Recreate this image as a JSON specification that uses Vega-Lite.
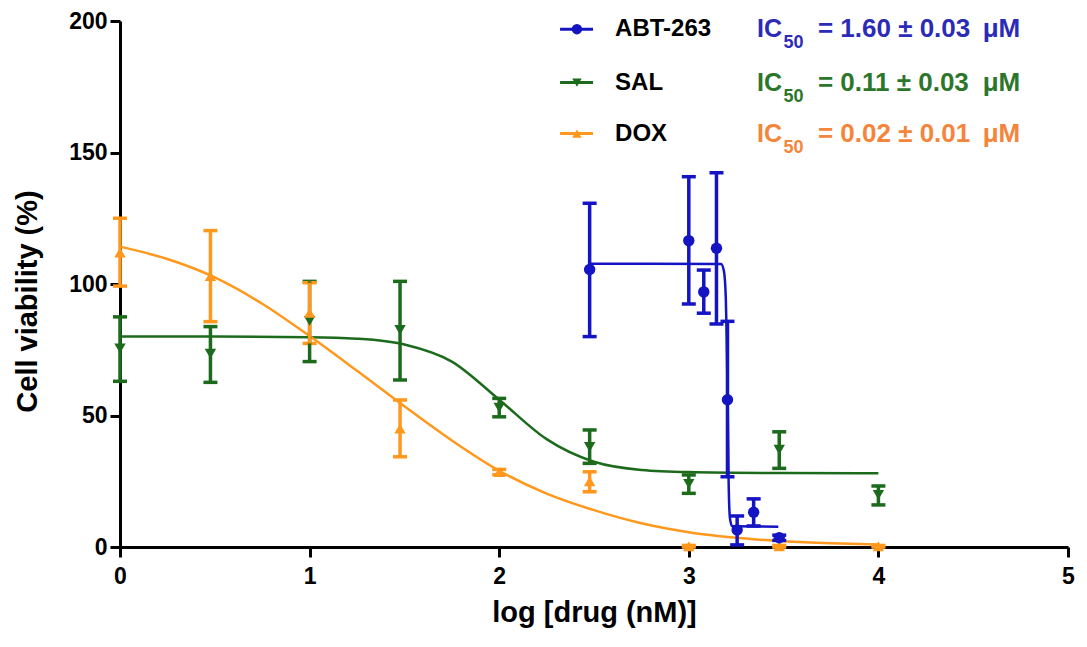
{
  "$schema": "https://vega.github.io/schema/vega-lite/v6.json",
  "width": 948,
  "height": 526,
  "autosize": "none",
  "padding": {"left": 120, "top": 21, "right": 19, "bottom": 100},
  "background": "white",
  "datasets": {
    "obs": [
      {"drug": "SAL", "logc": 0, "viab": 75.5, "lo": 63, "hi": 87.5},
      {"drug": "SAL", "logc": 0.477, "viab": 73.5, "lo": 62.6, "hi": 83.8},
      {"drug": "SAL", "logc": 1, "viab": 86, "lo": 70.5, "hi": 101},
      {"drug": "SAL", "logc": 1.477, "viab": 82.5, "lo": 63.5, "hi": 101},
      {"drug": "SAL", "logc": 2, "viab": 53, "lo": 49.5, "hi": 56.5},
      {"drug": "SAL", "logc": 2.477, "viab": 38, "lo": 31.8, "hi": 44.5},
      {"drug": "SAL", "logc": 3, "viab": 24, "lo": 20.4, "hi": 27.4},
      {"drug": "SAL", "logc": 3.477, "viab": 37, "lo": 29.9, "hi": 43.8},
      {"drug": "SAL", "logc": 4, "viab": 19.8, "lo": 16, "hi": 23.2},
      {"drug": "DOX", "logc": 0, "viab": 112, "lo": 99.2, "hi": 125},
      {"drug": "DOX", "logc": 0.477, "viab": 103, "lo": 85.7, "hi": 120.3},
      {"drug": "DOX", "logc": 1, "viab": 89, "lo": 77.4, "hi": 100.5},
      {"drug": "DOX", "logc": 1.477, "viab": 45, "lo": 34.3, "hi": 55.9},
      {"drug": "DOX", "logc": 2, "viab": 28.5, "lo": 27.5, "hi": 29.5},
      {"drug": "DOX", "logc": 2.477, "viab": 25, "lo": 21, "hi": 28.6},
      {"drug": "DOX", "logc": 3, "viab": 0.3, "lo": 0, "hi": 0.6},
      {"drug": "DOX", "logc": 3.477, "viab": 0.3, "lo": 0, "hi": 0.6},
      {"drug": "DOX", "logc": 4, "viab": 0.3, "lo": 0, "hi": 0.6},
      {"drug": "ABT-263", "logc": 2.477, "viab": 105.5, "lo": 80, "hi": 130.7},
      {"drug": "ABT-263", "logc": 3.0, "viab": 116.5, "lo": 92.4, "hi": 140.8},
      {"drug": "ABT-263", "logc": 3.079, "viab": 97, "lo": 88.9, "hi": 105.3},
      {"drug": "ABT-263", "logc": 3.146, "viab": 113.6, "lo": 84.8, "hi": 142.3},
      {"drug": "ABT-263", "logc": 3.204, "viab": 56, "lo": 26.7, "hi": 85.8},
      {"drug": "ABT-263", "logc": 3.255, "viab": 6.5, "lo": 0.8, "hi": 11.8},
      {"drug": "ABT-263", "logc": 3.342, "viab": 13.2, "lo": 8, "hi": 18.3},
      {"drug": "ABT-263", "logc": 3.477, "viab": 3.5, "lo": 2.5, "hi": 4.5}
    ],
    "fit": [
      {"drug": "SAL", "logc": 0, "viab": 80},
      {"drug": "SAL", "logc": 0.5, "viab": 80},
      {"drug": "SAL", "logc": 1, "viab": 79.8},
      {"drug": "SAL", "logc": 1.25, "viab": 79.2},
      {"drug": "SAL", "logc": 1.5, "viab": 77},
      {"drug": "SAL", "logc": 1.75, "viab": 70.5},
      {"drug": "SAL", "logc": 2, "viab": 56},
      {"drug": "SAL", "logc": 2.25, "viab": 41},
      {"drug": "SAL", "logc": 2.5, "viab": 32.4},
      {"drug": "SAL", "logc": 2.75, "viab": 29.3},
      {"drug": "SAL", "logc": 3, "viab": 28.5},
      {"drug": "SAL", "logc": 3.5, "viab": 28.1},
      {"drug": "SAL", "logc": 4, "viab": 28},
      {"drug": "DOX", "logc": 0, "viab": 114.2},
      {"drug": "DOX", "logc": 0.25, "viab": 109.5},
      {"drug": "DOX", "logc": 0.5, "viab": 102.5},
      {"drug": "DOX", "logc": 0.75, "viab": 92.5},
      {"drug": "DOX", "logc": 1, "viab": 80.2},
      {"drug": "DOX", "logc": 1.25, "viab": 67},
      {"drug": "DOX", "logc": 1.5, "viab": 53.5},
      {"drug": "DOX", "logc": 1.75, "viab": 40.5},
      {"drug": "DOX", "logc": 2, "viab": 29},
      {"drug": "DOX", "logc": 2.25, "viab": 20.3},
      {"drug": "DOX", "logc": 2.5, "viab": 14},
      {"drug": "DOX", "logc": 2.75, "viab": 9},
      {"drug": "DOX", "logc": 3, "viab": 5.6},
      {"drug": "DOX", "logc": 3.25, "viab": 3.5},
      {"drug": "DOX", "logc": 3.5, "viab": 2.2},
      {"drug": "DOX", "logc": 3.75, "viab": 1.4},
      {"drug": "DOX", "logc": 4, "viab": 0.9},
      {"drug": "ABT-263", "logc": 2.477, "viab": 107.7},
      {"drug": "ABT-263", "logc": 3.17, "viab": 107.6},
      {"drug": "ABT-263", "logc": 3.185, "viab": 105},
      {"drug": "ABT-263", "logc": 3.195, "viab": 95},
      {"drug": "ABT-263", "logc": 3.2, "viab": 80},
      {"drug": "ABT-263", "logc": 3.205, "viab": 55},
      {"drug": "ABT-263", "logc": 3.21, "viab": 25},
      {"drug": "ABT-263", "logc": 3.217, "viab": 11},
      {"drug": "ABT-263", "logc": 3.228, "viab": 8},
      {"drug": "ABT-263", "logc": 3.472, "viab": 7.7}
    ],
    "key": [
      {"drug": "ABT-263", "ic": "= 1.60 ± 0.03"},
      {"drug": "SAL", "ic": "= 0.11 ± 0.03"},
      {"drug": "DOX", "ic": "= 0.02 ± 0.01"}
    ]
  },
  "encoding": {
    "x": {
      "type": "quantitative",
      "scale": {"domain": [0, 5], "nice": false, "zero": false},
      "axis": {"title": "log [drug (nM)]", "values": [0, 1, 2, 3, 4, 5], "format": "d", "labelPadding": 8, "titlePadding": 10}
    },
    "y": {
      "type": "quantitative",
      "scale": {"domain": [0, 200], "nice": false},
      "axis": {"title": "Cell viability (%)", "values": [0, 50, 100, 150, 200], "labelPadding": 3, "titlePadding": 26, "titleY": 280}
    },
    "color": {
      "field": "drug",
      "type": "nominal",
      "scale": {"domain": ["ABT-263", "SAL", "DOX"], "range": ["#1414c4", "#1c6b1c", "#ff981c"]},
      "legend": null
    }
  },
  "layer": [
    {
      "data": {"name": "fit"},
      "mark": {"type": "line", "strokeWidth": 2.5, "interpolate": "monotone"},
      "encoding": {"x": {"field": "logc"}, "y": {"field": "viab"}}
    },
    {
      "data": {"name": "obs"},
      "mark": {"type": "errorbar", "thickness": 3.5, "opacity": 1, "rule": {"opacity": 1}, "ticks": {"size": 14, "opacity": 1}},
      "encoding": {
        "x": {"field": "logc", "type": "quantitative"},
        "y": {"field": "lo", "type": "quantitative"},
        "y2": {"field": "hi"},
        "color": {"field": "drug", "type": "nominal"}
      }
    },
    {
      "data": {"name": "obs"},
      "mark": {"type": "point", "filled": true, "opacity": 1, "size": 130},
      "encoding": {
        "x": {"field": "logc"},
        "y": {"field": "viab"},
        "shape": {
          "field": "drug",
          "type": "nominal",
          "scale": {"domain": ["ABT-263", "SAL", "DOX"], "range": ["circle", "triangle-down", "triangle-up"]},
          "legend": null
        }
      }
    },
    {
      "data": {"name": "key"},
      "transform": [{"filter": "datum.drug == 'ABT-263'"}],
      "encoding": {"y": {"datum": 196.9}},
      "layer": [
        {"mark": {"type": "rule", "strokeWidth": 3}, "encoding": {"x": {"datum": 2.321}, "x2": {"datum": 2.495}}},
        {"mark": {"type": "point", "filled": true, "opacity": 1, "size": 110}, "encoding": {"x": {"datum": 2.41}, "shape": {"field": "drug", "type": "nominal"}}},
        {"mark": {"type": "text", "align": "left", "baseline": "middle", "fontSize": 24, "fontWeight": "bold"}, "encoding": {"x": {"datum": 2.611}, "text": {"field": "drug"}, "color": {"value": "black"}}},
        {"mark": {"type": "text", "align": "left", "baseline": "middle", "fontSize": 25, "fontWeight": "bold"}, "encoding": {"x": {"datum": 3.36}, "text": {"value": "IC"}, "color": {"value": "#2b2bb8"}}},
        {"mark": {"type": "text", "align": "left", "baseline": "middle", "fontSize": 18, "fontWeight": "bold", "dy": 14}, "encoding": {"x": {"datum": 3.5}, "text": {"value": "50"}, "color": {"value": "#2b2bb8"}}},
        {"mark": {"type": "text", "align": "left", "baseline": "middle", "fontSize": 26, "fontWeight": "bold"}, "encoding": {"x": {"datum": 3.681}, "text": {"field": "ic"}, "color": {"value": "#2b2bb8"}}},
        {"mark": {"type": "text", "align": "left", "baseline": "middle", "fontSize": 26, "fontWeight": "bold"}, "encoding": {"x": {"datum": 4.55}, "text": {"value": "μM"}, "color": {"value": "#2b2bb8"}}}
      ]
    },
    {
      "data": {"name": "key"},
      "transform": [{"filter": "datum.drug == 'SAL'"}],
      "encoding": {"y": {"datum": 176.6}},
      "layer": [
        {"mark": {"type": "rule", "strokeWidth": 3}, "encoding": {"x": {"datum": 2.321}, "x2": {"datum": 2.495}}},
        {"mark": {"type": "point", "filled": true, "opacity": 1, "size": 90}, "encoding": {"x": {"datum": 2.41}, "shape": {"field": "drug", "type": "nominal"}}},
        {"mark": {"type": "text", "align": "left", "baseline": "middle", "fontSize": 24, "fontWeight": "bold"}, "encoding": {"x": {"datum": 2.611}, "text": {"field": "drug"}, "color": {"value": "black"}}},
        {"mark": {"type": "text", "align": "left", "baseline": "middle", "fontSize": 25, "fontWeight": "bold"}, "encoding": {"x": {"datum": 3.36}, "text": {"value": "IC"}, "color": {"value": "#2c762c"}}},
        {"mark": {"type": "text", "align": "left", "baseline": "middle", "fontSize": 18, "fontWeight": "bold", "dy": 14}, "encoding": {"x": {"datum": 3.5}, "text": {"value": "50"}, "color": {"value": "#2c762c"}}},
        {"mark": {"type": "text", "align": "left", "baseline": "middle", "fontSize": 26, "fontWeight": "bold"}, "encoding": {"x": {"datum": 3.681}, "text": {"field": "ic"}, "color": {"value": "#2c762c"}}},
        {"mark": {"type": "text", "align": "left", "baseline": "middle", "fontSize": 26, "fontWeight": "bold"}, "encoding": {"x": {"datum": 4.55}, "text": {"value": "μM"}, "color": {"value": "#2c762c"}}}
      ]
    },
    {
      "data": {"name": "key"},
      "transform": [{"filter": "datum.drug == 'DOX'"}],
      "encoding": {"y": {"datum": 157.2}},
      "layer": [
        {"mark": {"type": "rule", "strokeWidth": 3}, "encoding": {"x": {"datum": 2.321}, "x2": {"datum": 2.495}}},
        {"mark": {"type": "point", "filled": true, "opacity": 1, "size": 90}, "encoding": {"x": {"datum": 2.41}, "shape": {"field": "drug", "type": "nominal"}}},
        {"mark": {"type": "text", "align": "left", "baseline": "middle", "fontSize": 24, "fontWeight": "bold"}, "encoding": {"x": {"datum": 2.611}, "text": {"field": "drug"}, "color": {"value": "black"}}},
        {"mark": {"type": "text", "align": "left", "baseline": "middle", "fontSize": 25, "fontWeight": "bold"}, "encoding": {"x": {"datum": 3.36}, "text": {"value": "IC"}, "color": {"value": "#f4853a"}}},
        {"mark": {"type": "text", "align": "left", "baseline": "middle", "fontSize": 18, "fontWeight": "bold", "dy": 14}, "encoding": {"x": {"datum": 3.5}, "text": {"value": "50"}, "color": {"value": "#f4853a"}}},
        {"mark": {"type": "text", "align": "left", "baseline": "middle", "fontSize": 26, "fontWeight": "bold"}, "encoding": {"x": {"datum": 3.681}, "text": {"field": "ic"}, "color": {"value": "#f4853a"}}},
        {"mark": {"type": "text", "align": "left", "baseline": "middle", "fontSize": 26, "fontWeight": "bold"}, "encoding": {"x": {"datum": 4.55}, "text": {"value": "μM"}, "color": {"value": "#f4853a"}}}
      ]
    }
  ],
  "config": {
    "view": {"stroke": null},
    "font": "Liberation Sans",
    "axis": {
      "grid": false,
      "labelFlush": false,
      "domainColor": "black",
      "domainWidth": 3,
      "tickColor": "black",
      "tickWidth": 3,
      "tickSize": 10,
      "labelFont": "Liberation Sans",
      "labelFontSize": 23,
      "labelFontWeight": "bold",
      "labelColor": "black",
      "titleFont": "Liberation Sans",
      "titleFontSize": 29,
      "titleFontWeight": "bold",
      "titleColor": "black"
    }
  }
}
